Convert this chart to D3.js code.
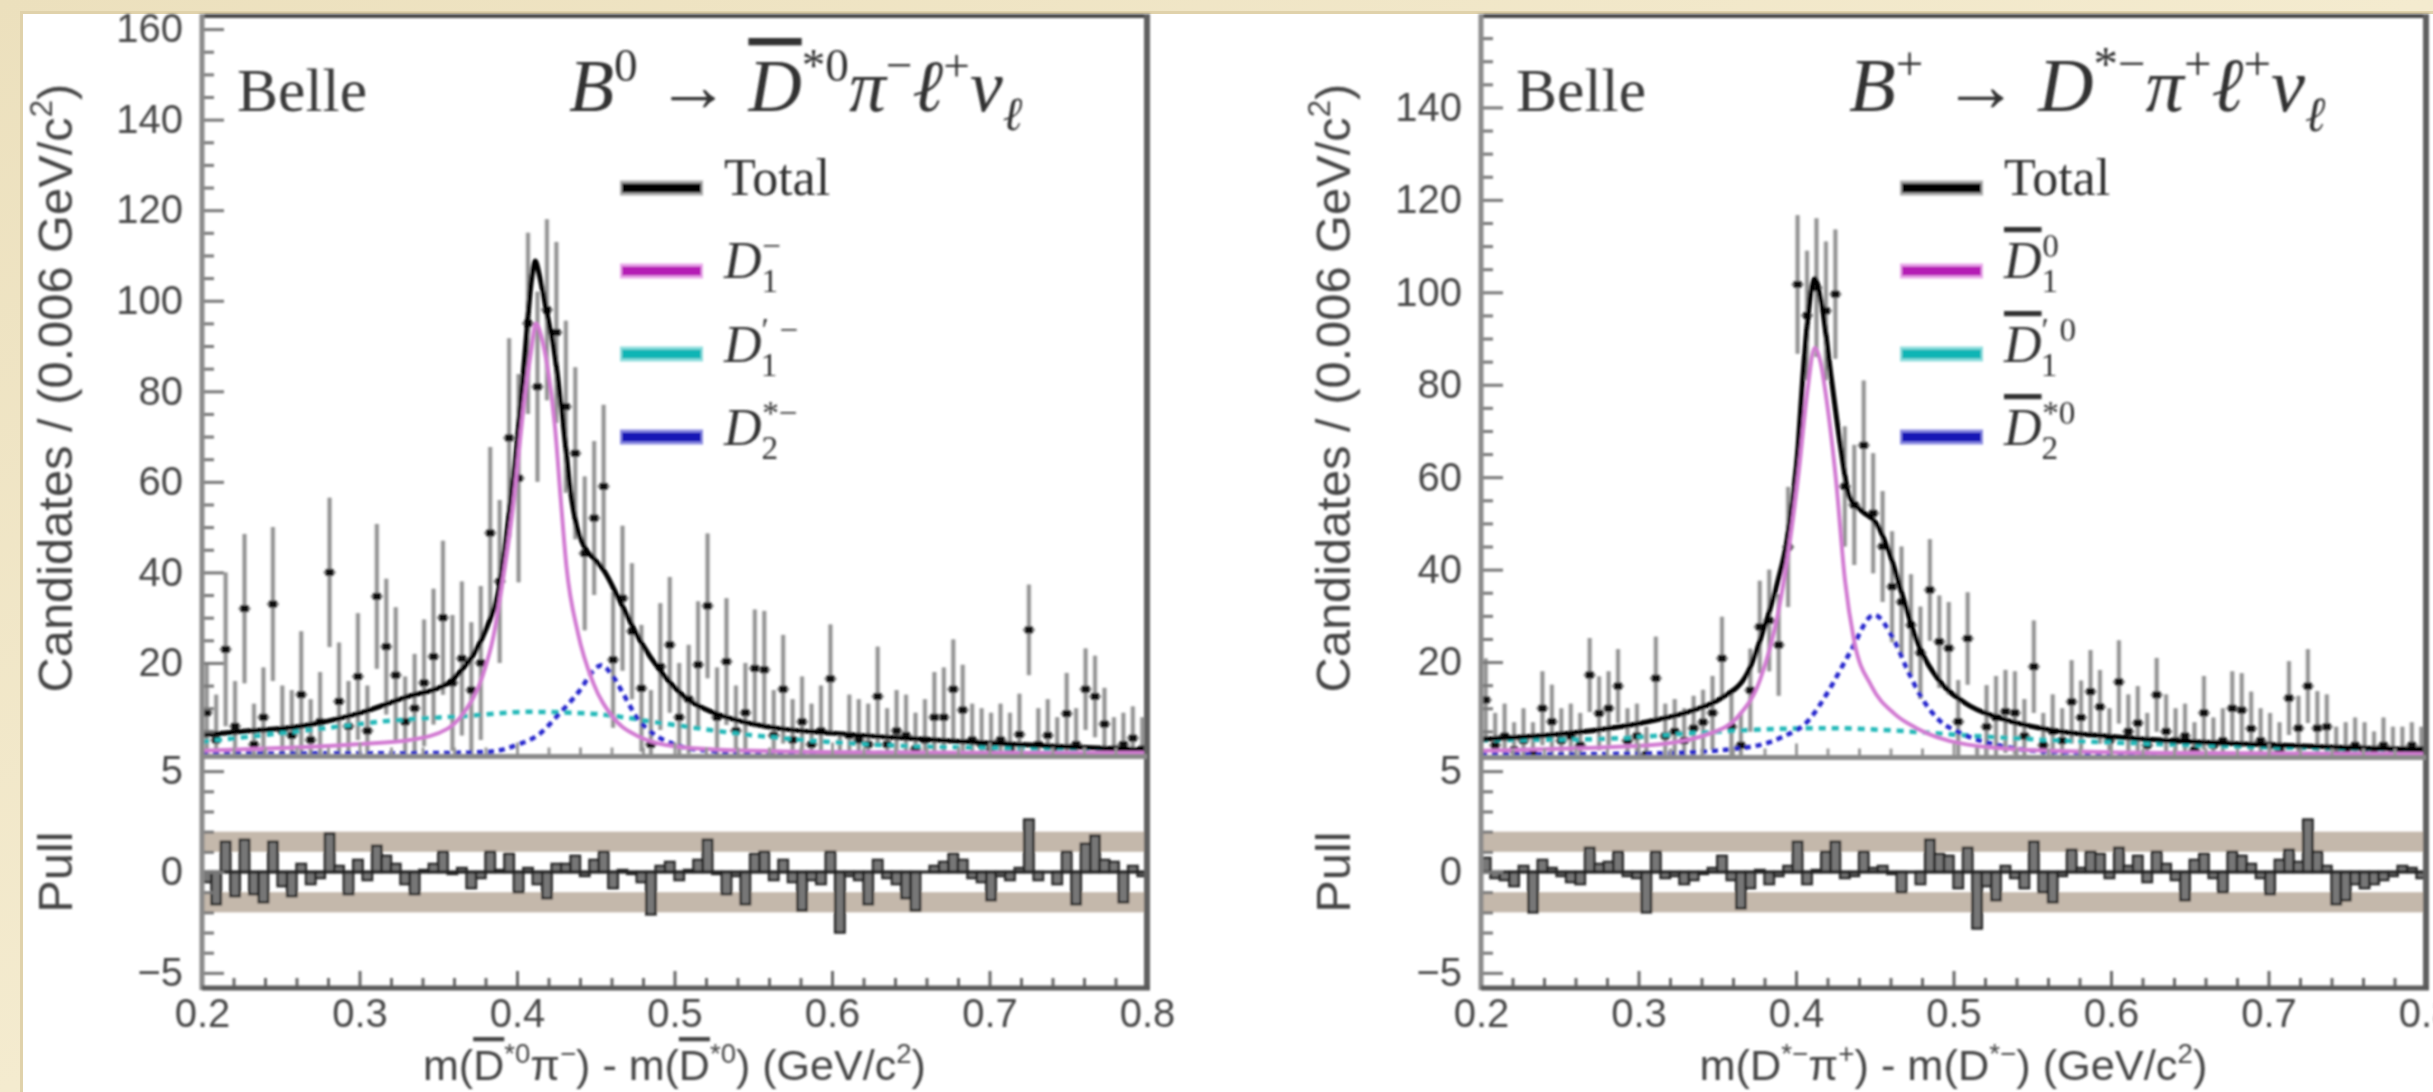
<!DOCTYPE html>
<html><head><meta charset="utf-8">
<script src="https://cdn.jsdelivr.net/npm/d3@7"></script>
<style>html,body{margin:0;padding:0;background:#fff;overflow:hidden}</style>
</head><body>
<svg id="chart" width="2433" height="1092" xmlns="http://www.w3.org/2000/svg"></svg>
<script>
// ---------------- DATA ----------------
const xTicks = [0.2, 0.3, 0.4, 0.5, 0.6, 0.7, 0.8];
const xTickLabels = ["0.2", "0.3", "0.4", "0.5", "0.6", "0.7", "0.8"];
const yTicksLeft = [20, 40, 60, 80, 100, 120, 140, 160];
const yTicksRight = [20, 40, 60, 80, 100, 120, 140];
const pullTicks = [-5, 0, 5];
const binWidth = 0.006;
const nBins = 100;

// B0 -> D*0bar pi- l+ nu  (left)
const leftCounts = [9,3,23,6,32,2,8,33,5,4,
  13,3,7,40,11.5,6,17,5,34.7,23.6,
  17.3,7,10,15.6,21.4,30,15.6,21,14,20,
  48.7,38,69.7,60.8,95,81,98,93,76.6,66.3,
  44.2,52,59,20.7,34.3,27,14.4,2,19.2,24,
  8,12,19.6,32.6,8,20.3,5,9,18.8,18.5,
  4,14.2,3,7,2,5,16.5,-6,4,3,
  2,12.6,2,5,4,1,3,8,8,14.2,
  9.6,3,2,1,3,1,4.2,27.3,2,4,
  1,8.8,2,14.2,12.6,6.5,1,2,3.4,1];
const leftErrors = [11,10,17,10,16.5,9,11,17,10,10,
  14,9,11,16.5,13,10,14,10,16,15,
  15,10,12,14,15,17,15,17,15,17,
  19,18,22,23,20,21,20,20,19,19,
  17,17,18,15,16,15,14,12,14,15,
  12,12,14,16,11,14,10,11,13,13,
  10,12,9,10,9,10,12,10,9,9,
  9,11,8,9,9,8,9,10,11,11,
  10,8,8,8,8,8,9,10,8,8,
  7,9,8,9,9,8,7,7,7,7];
const leftPulls = [-0.5,-1.6,1.5,-1.2,1.6,-1.1,-1.5,1.5,-0.7,-1.2,
  0.4,-0.6,-0.3,1.9,0.3,-1.1,0.6,-0.4,1.3,0.8,
  0.4,-0.6,-1.1,0.1,0.4,1.0,-0.1,0.2,-0.8,-0.3,
  1.0,0.1,0.9,-1.0,0.2,-0.6,-1.3,0.4,0.4,0.8,
  -0.2,0.6,1.0,-0.8,0.1,-0.1,-0.5,-2.1,0.3,0.5,
  -0.4,0.1,0.6,1.6,-0.1,-1.1,-0.2,-1.6,0.9,1.0,
  -0.4,0.6,-0.5,-1.9,-0.4,-0.6,1.0,-3.0,-0.2,-0.4,
  -1.6,0.6,-0.3,-0.6,-1.3,-1.9,0.0,0.3,0.5,0.9,
  0.6,-0.3,-0.5,-1.4,-0.2,-0.4,0.2,2.6,-0.4,0.0,
  -0.6,1.0,-1.6,1.4,1.8,0.6,0.5,-1.5,0.3,-0.2];
const leftTotal = [[0.200,4.1],[0.230,5.0],[0.260,5.9],[0.300,8.9],[0.330,12.5],[0.356,15.5],[0.365,18.5],[0.373,22.2],[0.381,28],[0.388,35.4],[0.395,53],[0.400,68.5],[0.405,88],[0.409,104],[0.4115,108.8],[0.414,106],[0.418,99],[0.424,88],[0.429,74],[0.434,58],[0.438,50],[0.443,45.5],[0.449,43],[0.455,40.5],[0.465,33.9],[0.478,25],[0.492,17.8],[0.509,11.8],[0.525,9],[0.540,7.3],[0.565,5.6],[0.600,4.5],[0.650,3.3],[0.700,2.3],[0.750,1.5],[0.800,0.8]];
const leftD1 = [[0.200,0.6],[0.250,1.2],[0.300,2.1],[0.332,3.0],[0.356,5.5],[0.366,8.9],[0.378,17],[0.385,25.8],[0.390,36],[0.3975,54.5],[0.4047,78],[0.409,89],[0.412,95],[0.4155,92],[0.4193,85.5],[0.4241,72.2],[0.4278,56],[0.4314,41.3],[0.4387,26.6],[0.4484,15.6],[0.4607,8.1],[0.4776,3.7],[0.502,1.5],[0.550,0.6],[0.650,0.2],[0.800,0.1]];
const leftD1p = [[0.200,2.6],[0.269,5.2],[0.318,7.2],[0.368,8.3],[0.407,9.2],[0.447,8.8],[0.496,6.5],[0.545,4.2],[0.614,2.2],[0.712,1.1],[0.800,0.6]];
const leftD2 = [[0.200,0],[0.350,0.1],[0.383,0.4],[0.400,1.9],[0.415,4.5],[0.425,8.1],[0.440,14],[0.449,18.5],[0.4535,19.5],[0.460,17.5],[0.467,13.5],[0.476,8],[0.486,4.5],[0.500,2],[0.515,0.8],[0.550,0.2],[0.800,0]];

// B+ -> D*- pi+ l+ nu  (right)
const rightCounts = [11.8,2,4,1,3,0,10,7.1,3,4,
  2,17.2,8.9,10,14.8,3,4,0,16.5,4,
  5,3,5.7,7,9,20.8,6,2,13.9,27.6,
  29,23.7,44.9,101.7,95,101,96,99.6,58,54,
  66.9,52.2,45,36.3,33,28,22,35.6,24.4,23,
  7.1,25.1,-6,6,8,9.3,9,4,19,2,
  5,3,11.4,8,13.6,10.3,3,15.7,5,6.8,
  2,12.9,5,3,4,1,9,2,3,10,
  9.6,5.6,3,2,1,12.2,5.7,14.8,5.7,6,
  0,1,2,1,0,2,1,1,2,1];
const rightErrors = [9,7,7,6,7,7,8,8,7,7,
  7,8,8,8,8,7,7,6,9,7,
  7,7,7,7,8,9,8,7,9,10,
  11,11,13,15,14,15,15,14,13,13,
  14,13,12,12,12,11,10,11,10,10,
  9,10,8,9,9,9,9,8,10,7,
  8,7,9,8,9,8,7,9,8,8,
  7,8,8,7,7,6,8,6,7,8,
  8,8,7,7,6,8,7,8,8,7,
  6,6,6,6,5,6,5,5,5,5];
const rightPulls = [0.7,-0.3,-0.4,-0.7,0.3,-2.0,0.6,0.2,-0.2,-0.5,
  -0.6,1.2,0.4,0.5,1.0,-0.2,-0.3,-2.0,1.0,-0.3,
  -0.2,-0.6,-0.4,-0.1,0.2,0.8,-0.4,-1.8,-0.8,0.1,
  -0.6,-0.2,0.3,1.5,-0.6,0.1,1.0,1.5,-0.3,-0.2,
  1.0,0.2,0.3,-0.1,-1.0,0.0,-0.6,1.6,0.9,0.8,
  -0.8,1.2,-2.8,-0.7,-1.4,0.3,-0.3,-0.8,1.5,-1.0,
  -1.5,-0.2,1.1,0.2,1.0,0.9,-0.3,1.2,0.3,0.8,
  -0.5,1.0,0.4,-0.4,-1.4,0.6,0.9,-0.3,-1.0,1.0,
  0.8,0.4,-0.3,-1.1,0.6,1.1,0.5,2.6,1.0,0.3,
  -1.6,-1.4,-0.6,-0.8,-0.6,-0.4,-0.2,0.3,0.2,-0.3];
const rightTotal = [[0.200,3.3],[0.264,4.9],[0.306,7.1],[0.335,9.6],[0.352,12.1],[0.369,17.5],[0.380,27.6],[0.3886,37.7],[0.3943,46.4],[0.4013,66.6],[0.4042,81],[0.408,96],[0.4118,103],[0.416,98],[0.4226,81],[0.4283,66.6],[0.434,55.7],[0.4425,52.5],[0.451,50],[0.4594,43.5],[0.4679,34.1],[0.4765,24.8],[0.4907,16.1],[0.5076,11.1],[0.5331,7.5],[0.5616,5.3],[0.604,3.8],[0.650,2.8],[0.700,2.1],[0.750,1.5],[0.800,1.0]];
const rightD1 = [[0.200,0.8],[0.2213,1.0],[0.3064,2.0],[0.346,4.6],[0.3631,8.2],[0.3771,16.1],[0.3886,30.6],[0.3956,44.9],[0.402,62],[0.407,78],[0.412,88],[0.4155,85],[0.4197,76],[0.4254,59.4],[0.4311,37.7],[0.4368,24.8],[0.4481,14.7],[0.4622,8.9],[0.4765,5.7],[0.5048,2.4],[0.5473,1.0],[0.650,0.3],[0.800,0.1]];
const rightD1p = [[0.200,3.1],[0.270,3.3],[0.3347,4.6],[0.377,5.4],[0.420,5.7],[0.462,5.2],[0.505,4.2],[0.562,3.1],[0.618,2.4],[0.700,1.5],[0.800,1.0]];
const rightD2 = [[0.200,0],[0.3064,0.2],[0.3632,1.3],[0.3914,3.8],[0.4083,7.5],[0.4197,13.2],[0.434,21.9],[0.4495,30.2],[0.4622,24.8],[0.4708,18.3],[0.4794,12.5],[0.4907,7.5],[0.5048,4.6],[0.5331,1.7],[0.560,0.6],[0.650,0.1],[0.800,0]];

// ---------------- DRAW ----------------
const W = 2433, H = 1092;
const SANS = "'Liberation Sans', Arial, Helvetica, sans-serif";
const SERIF = "'Liberation Serif', 'Times New Roman', serif";
const svg = d3.select("#chart");
const defs = svg.append("defs");
const blur = defs.append("filter").attr("id","soft").attr("x","-5%").attr("y","-5%").attr("width","110%").attr("height","110%");
blur.append("feGaussianBlur").attr("stdDeviation",0.9);
const grad = defs.append("linearGradient").attr("id","beige").attr("x1","0").attr("y1","0").attr("x2","1").attr("y2","1");
grad.append("stop").attr("offset","0").attr("stop-color","#ece0bd");
grad.append("stop").attr("offset","0.5").attr("stop-color","#f4ebcf");
grad.append("stop").attr("offset","1").attr("stop-color","#efe4c4");

svg.append("rect").attr("width",W).attr("height",H).attr("fill","url(#beige)");
svg.append("rect").attr("x",20).attr("y",11).attr("width",W-20).attr("height",H-11).attr("fill","#e0d2ab");
svg.append("rect").attr("x",23).attr("y",14).attr("width",W-23).attr("height",H-14).attr("fill","#ffffff");

const chart = svg.append("g").attr("filter","url(#soft)");

function richText(parent, segs, size, family, fill) {
  const t = parent.append("text").attr("font-family", family).attr("font-size", size).attr("fill", fill);
  let cur = 0;
  segs.forEach(s => {
    const pos = s.pos || "base";
    const target = pos === "sup" ? -0.40 * size : pos === "sub" ? 0.26 * size : 0;
    const ts = t.append("tspan").text(s.t).attr("dy", target - cur);
    cur = target;
    if (pos !== "base") ts.attr("font-size", size * 0.64);
    if (s.i) ts.attr("font-style", "italic");
    if (s.dx) ts.attr("dx", s.dx);
    if (s.over) ts.style("text-decoration", "overline");
  });
  return t;
}
function placeFit(parent, segs, size, family, fill, x, y, targetW, anchor) {
  const g = parent.append("g");
  const t = richText(g, segs, size, family, fill);
  const bb = t.node().getBBox();
  const s = targetW ? targetW / bb.width : 1;
  let ox = x;
  if (anchor === "middle") ox = x - bb.width * s / 2;
  g.attr("transform", `translate(${ox - bb.x * s},${y}) scale(${s})`);
  return g;
}

const centers = d3.range(nBins).map(i => 0.2 + binWidth * (i + 0.5));

function drawPanel(p) {
  const x = d3.scaleLinear().domain([0.2, 0.8]).range([p.x0, p.x1]);
  const y = d3.scaleLinear().domain([0, p.yMax]).range([p.yZero, p.yTop]);
  const yp = d3.scaleLinear().domain([-5.7, 5.75]).range([987, 756]);
  const g = chart.append("g");
  const cid = "clip" + p.id;
  defs.append("clipPath").attr("id", cid).append("rect")
    .attr("x", p.x0).attr("y", p.yTop).attr("width", p.x1 - p.x0).attr("height", p.yZero - p.yTop + 1);

  // ---- pull panel ----
  g.append("rect").attr("x", p.x0).attr("width", p.x1 - p.x0).attr("y", yp(2)).attr("height", yp(1) - yp(2)).attr("fill", "#c4b8ab");
  g.append("rect").attr("x", p.x0).attr("width", p.x1 - p.x0).attr("y", yp(-1)).attr("height", yp(-2) - yp(-1)).attr("fill", "#c4b8ab");
  const bw = x(0.2 + binWidth) - x(0.2);
  g.append("g").selectAll("rect").data(p.pulls).join("rect")
    .attr("x", (d, i) => x(0.2 + i * binWidth))
    .attr("width", bw)
    .attr("y", d => yp(Math.max(d, 0)))
    .attr("height", d => Math.abs(yp(d) - yp(0)))
    .attr("fill", "#777").attr("stroke", "#222").attr("stroke-width", 2.4);
  g.append("line").attr("x1", p.x0).attr("x2", p.x1).attr("y1", yp(0)).attr("y2", yp(0)).attr("stroke", "#222").attr("stroke-width", 2.8);

  // ---- upper panel ----
  const gu = g.append("g").attr("clip-path", `url(#${cid})`);
  gu.append("g").selectAll("line").data(p.counts).join("line")
    .attr("x1", (d, i) => x(centers[i])).attr("x2", (d, i) => x(centers[i]))
    .attr("y1", (d, i) => y(d - p.errors[i])).attr("y2", (d, i) => y(d + p.errors[i]))
    .attr("stroke", "#b9b9b9").attr("stroke-width", 5);
  gu.append("g").selectAll("line").data(p.counts).join("line")
    .attr("x1", (d, i) => x(centers[i])).attr("x2", (d, i) => x(centers[i]))
    .attr("y1", (d, i) => y(d - p.errors[i])).attr("y2", (d, i) => y(d + p.errors[i]))
    .attr("stroke", "#7d7d7d").attr("stroke-width", 1.8);
  gu.append("g").selectAll("line").data(p.counts).join("line")
    .attr("x1", (d, i) => x(centers[i]) - 6).attr("x2", (d, i) => x(centers[i]) + 6)
    .attr("y1", d => y(d)).attr("y2", d => y(d))
    .attr("stroke", "#888").attr("stroke-width", 3);
  gu.append("g").selectAll("rect").data(p.counts).join("rect")
    .attr("x", (d, i) => x(centers[i]) - 4).attr("y", d => y(d) - 3.5)
    .attr("width", 8).attr("height", 7).attr("fill", "#111");

  const line = d3.line().x(d => x(d[0])).y(d => y(d[1])).curve(d3.curveMonotoneX);
  gu.append("path").attr("d", line(p.d1p)).attr("fill", "none").attr("stroke", "#22b8b8").attr("stroke-width", 4.5).attr("stroke-dasharray", "7 6");
  gu.append("path").attr("d", line(p.d2)).attr("fill", "none").attr("stroke", "#2525cc").attr("stroke-width", 4.5).attr("stroke-dasharray", "6 5");
  gu.append("path").attr("d", line(p.total)).attr("fill", "none").attr("stroke", "#000").attr("stroke-width", 5);
  gu.append("path").attr("d", line(p.d1)).attr("fill", "none").attr("stroke", "#d27ad2").attr("stroke-width", 4);

  // ---- axes ----
  function styleAxis(sel, col) {
    sel.select(".domain").remove();
    sel.selectAll(".tick line").attr("stroke", col || "#777").attr("stroke-width", 3);
    sel.attr("font-size", 40).attr("font-family", SANS);
    sel.selectAll(".tick text").attr("fill", "#474747");
  }
  const ay = g.append("g").attr("transform", `translate(${p.x0},0)`)
    .call(d3.axisLeft(y).tickValues(p.yTicks).tickSizeInner(-22).tickSizeOuter(0).tickPadding(19).tickFormat(d3.format("d")));
  styleAxis(ay);
  const minorY = d3.range(5, p.yMax, 5).filter(v => v % 20 !== 0);
  const aym = g.append("g").attr("transform", `translate(${p.x0},0)`)
    .call(d3.axisLeft(y).tickValues(minorY).tickSizeInner(-12).tickSizeOuter(0).tickFormat(""));
  styleAxis(aym);
  const ap = g.append("g").attr("transform", `translate(${p.x0},0)`)
    .call(d3.axisLeft(yp).tickValues(pullTicks).tickSizeInner(-22).tickSizeOuter(0).tickPadding(19).tickFormat(d => d < 0 ? "\u2212" + Math.abs(d) : String(d)));
  styleAxis(ap);
  const apm = g.append("g").attr("transform", `translate(${p.x0},0)`)
    .call(d3.axisLeft(yp).tickValues([-4, -3, -2, -1, 1, 2, 3, 4]).tickSizeInner(-12).tickSizeOuter(0).tickFormat(""));
  styleAxis(apm);
  const ax = g.append("g").attr("transform", `translate(0,987)`)
    .call(d3.axisBottom(x).tickValues(xTicks).tickSizeInner(-16).tickSizeOuter(0).tickPadding(12).tickFormat((d, i) => xTickLabels[i]));
  styleAxis(ax, "#666");
  const minorX = d3.range(0.22, 0.79, 0.02).filter(v => Math.abs(v * 10 - Math.round(v * 10)) > 1e-6);
  const axm = g.append("g").attr("transform", `translate(0,987)`)
    .call(d3.axisBottom(x).tickValues(minorX).tickSizeInner(-9).tickSizeOuter(0).tickFormat(""));
  styleAxis(axm, "#666");
  const asp = g.append("g").attr("transform", `translate(0,${p.yZero + 2})`)
    .call(d3.axisBottom(x).tickValues(xTicks).tickSizeInner(-13).tickSizeOuter(0).tickFormat(""));
  styleAxis(asp, "#999");
  const aspm = g.append("g").attr("transform", `translate(0,${p.yZero + 2})`)
    .call(d3.axisBottom(x).tickValues(minorX).tickSizeInner(-8).tickSizeOuter(0).tickFormat(""));
  styleAxis(aspm, "#999");

  // ---- frame ----
  g.append("line").attr("x1", p.x0 - 2).attr("x2", p.x1 + 3).attr("y1", 16).attr("y2", 16).attr("stroke", "#444").attr("stroke-width", 4);
  g.append("line").attr("x1", p.x0).attr("x2", p.x0).attr("y1", 14).attr("y2", 990).attr("stroke", "#8a8a8a").attr("stroke-width", 5);
  g.append("line").attr("x1", p.x1).attr("x2", p.x1).attr("y1", 14).attr("y2", 990).attr("stroke", "#5f5f5f").attr("stroke-width", 6);
  g.append("line").attr("x1", p.x0).attr("x2", p.x1 + 3).attr("y1", 988).attr("y2", 988).attr("stroke", "#5a5a5a").attr("stroke-width", 5);
  g.append("line").attr("x1", p.x0).attr("x2", p.x1).attr("y1", p.yZero + 3).attr("y2", p.yZero + 3).attr("stroke", "#8a8a8a").attr("stroke-width", 5);

  // ---- texts ----
  placeFit(g, [{t: "Belle"}], 62, SERIF, "#3a3a3a", p.x0 + 35, 111, 130);
  placeFit(g, p.formula, 62, SERIF, "#333", p.formulaX, 111, p.formulaW);

  const legendY = [188, 271, 354, 437];
  const legendCol = [["#000", "#aaa"], ["#b51cb5", "#eaa8ea"], ["#11b5b5", "#90dede"], ["#1212b5", "#8c8ce2"]];
  legendY.forEach((ly, k) => {
    g.append("line").attr("x1", p.legX).attr("x2", p.legX + 83).attr("y1", ly).attr("y2", ly).attr("stroke", legendCol[k][1]).attr("stroke-width", 15);
    g.append("line").attr("x1", p.legX + 2).attr("x2", p.legX + 81).attr("y1", ly).attr("y2", ly).attr("stroke", legendCol[k][0]).attr("stroke-width", 9);
  });
  const lb = [195, 278, 362, 445];
  p.legend.forEach((segs, k) => {
    const gg = g.append("g").attr("transform", `translate(${p.legX + 104},${lb[k]})`);
    richText(gg, segs, 52, SERIF, "#333");
  });

  // axis titles
  const gy = g.append("g").attr("transform", `translate(${p.titleX},388) rotate(-90)`);
  const ty = richText(gy, [{t: "Candidates / (0.006 GeV/c"}, {t: "2", pos: "sup"}, {t: ")"}], 48, SANS, "#444");
  const tyw = ty.node().getBBox().width;
  gy.attr("transform", `translate(${p.titleX},388) rotate(-90) scale(${609 / tyw}) translate(${-tyw / 2},0)`);
  const sc = 609 / tyw;
  const gpl = g.append("g");
  const tp = richText(gpl, [{t: "Pull"}], 48, SANS, "#444");
  const tpw = tp.node().getBBox().width;
  gpl.attr("transform", `translate(${p.titleX},872) rotate(-90) scale(${sc}) translate(${-tpw / 2},0)`);

  placeFit(g, p.xTitle, 44, SANS, "#444", (p.x0 + p.x1) / 2, 1080, p.xTitleW, "middle");
}

drawPanel({
  id: "L", x0: 202, x1: 1147, yMax: 163, yTop: 15.5, yZero: 753.5, yTicks: yTicksLeft,
  counts: leftCounts, errors: leftErrors, pulls: leftPulls,
  total: leftTotal, d1: leftD1, d1p: leftD1p, d2: leftD2,
  formula: [{t: "B", i: 1}, {t: "0", pos: "sup"}, {t: " \u2192 "}, {t: "D", i: 1, over: 1}, {t: "*0", pos: "sup"}, {t: "\u03c0", i: 1}, {t: "\u2212", pos: "sup"}, {t: "\u2113", i: 1}, {t: "+", pos: "sup"}, {t: "\u03bd", i: 1}, {t: "\u2113", pos: "sub", i: 1}],
  formulaX: 569, formulaW: 454,
  legX: 620,
  legend: [
    [{t: "Total"}],
    [{t: "D", i: 1}, {t: "1", pos: "sub"}, {t: "\u2212", pos: "sup", dx: -16}],
    [{t: "D", i: 1}, {t: "\u2032", pos: "sup"}, {t: "1", pos: "sub", dx: -8}, {t: "\u2212", pos: "sup", dx: 2}],
    [{t: "D", i: 1}, {t: "2", pos: "sub"}, {t: "*\u2212", pos: "sup", dx: -16}]
  ],
  titleX: 72,
  xTitle: [{t: "m("}, {t: "D", over: 1}, {t: "*0", pos: "sup"}, {t: "\u03c0"}, {t: "\u2212", pos: "sup"}, {t: ") - m("}, {t: "D", over: 1}, {t: "*0", pos: "sup"}, {t: ") (GeV/c"}, {t: "2", pos: "sup"}, {t: ")"}],
  xTitleW: 503
});

drawPanel({
  id: "R", x0: 1481, x1: 2426, yMax: 160, yTop: 15, yZero: 754.5, yTicks: yTicksRight,
  counts: rightCounts, errors: rightErrors, pulls: rightPulls,
  total: rightTotal, d1: rightD1, d1p: rightD1p, d2: rightD2,
  formula: [{t: "B", i: 1}, {t: "+", pos: "sup"}, {t: " \u2192 "}, {t: "D", i: 1}, {t: "*\u2212", pos: "sup"}, {t: "\u03c0", i: 1}, {t: "+", pos: "sup"}, {t: "\u2113", i: 1}, {t: "+", pos: "sup"}, {t: "\u03bd", i: 1}, {t: "\u2113", pos: "sub", i: 1}],
  formulaX: 1849, formulaW: 477,
  legX: 1900,
  legend: [
    [{t: "Total"}],
    [{t: "D", i: 1, over: 1}, {t: "1", pos: "sub"}, {t: "0", pos: "sup", dx: -16}],
    [{t: "D", i: 1, over: 1}, {t: "\u2032", pos: "sup"}, {t: "1", pos: "sub", dx: -8}, {t: "0", pos: "sup", dx: 2}],
    [{t: "D", i: 1, over: 1}, {t: "2", pos: "sub"}, {t: "*0", pos: "sup", dx: -16}]
  ],
  titleX: 1350,
  xTitle: [{t: "m(D"}, {t: "*\u2212", pos: "sup"}, {t: "\u03c0"}, {t: "+", pos: "sup"}, {t: ") - m(D"}, {t: "*\u2212", pos: "sup"}, {t: ") (GeV/c"}, {t: "2", pos: "sup"}, {t: ")"}],
  xTitleW: 508
});
</script>
</body></html>
